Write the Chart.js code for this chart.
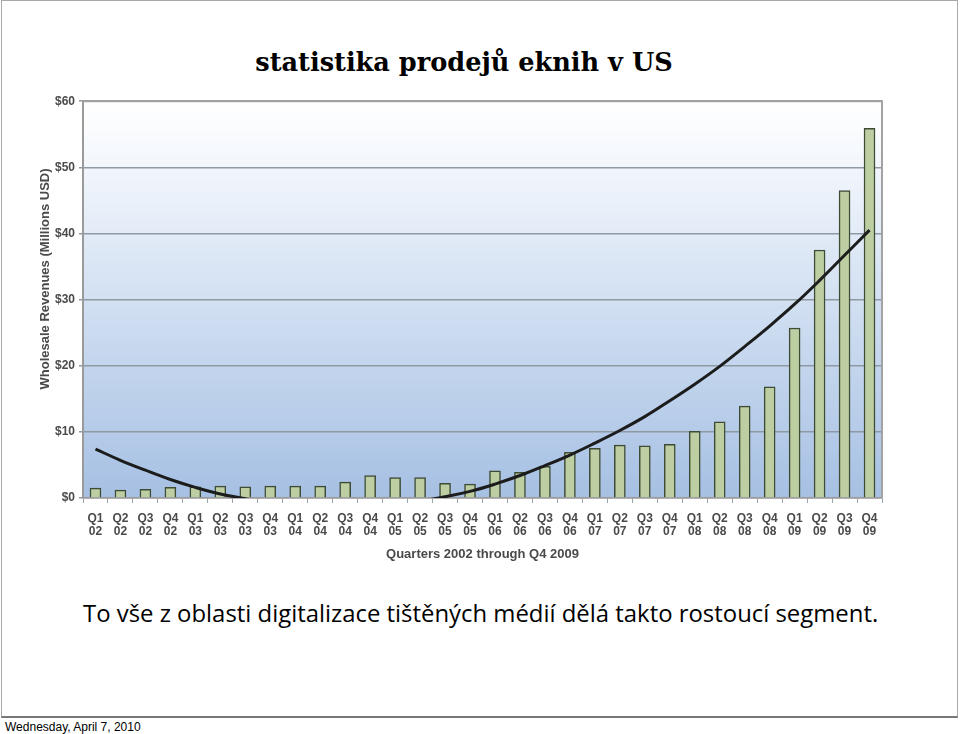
<!DOCTYPE html>
<html>
<head>
<meta charset="utf-8">
<script src="https://cdn.jsdelivr.net/npm/chart.js@4.4.1/dist/chart.umd.min.js"></script>
<style>
  html, body { margin: 0; padding: 0; background: #fff; }
  body { width: 960px; height: 734px; position: relative; overflow: hidden; }
  #frame { position: absolute; left: 1px; top: 0; width: 957px; height: 718px; border: 1.5px solid #a8a8a8; border-bottom: 2px solid #777; box-sizing: border-box; }
  #title { position: absolute; left: 0; width: 928px; top: 47px; text-align: center; font-family: "DejaVu Serif", serif; font-weight: bold; font-size: 25.6px; color: #000; }
  #caption { position: absolute; left: 83px; top: 596px; font-family: "Open Sans", sans-serif; font-size: 23.9px; color: #000; white-space: nowrap; }
  #footer { position: absolute; left: 5px; top: 720px; font-family: "Liberation Sans", Arial, sans-serif; font-size: 12px; color: #000; }
  #wrap { position: absolute; left: 30px; top: 90px; width: 870px; height: 485px; }
</style>
</head>
<body>
<div id="frame"></div>
<div id="title">statistika prodejů eknih v US</div>
<div id="wrap"><canvas id="c"></canvas></div>
<div id="caption">To vše z oblasti digitalizace tištěných médií dělá takto rostoucí segment.</div>
<div id="footer">Wednesday, April 7, 2010</div>
<script>
const quarters = ["Q1","Q2","Q3","Q4","Q1","Q2","Q3","Q4","Q1","Q2","Q3","Q4","Q1","Q2","Q3","Q4",
                  "Q1","Q2","Q3","Q4","Q1","Q2","Q3","Q4","Q1","Q2","Q3","Q4","Q1","Q2","Q3","Q4"];
const years = ["02","02","02","02","03","03","03","03","04","04","04","04","05","05","05","05",
               "06","06","06","06","07","07","07","07","08","08","08","08","09","09","09","09"];
const revenues = [1.5, 1.2, 1.3, 1.6, 1.7, 1.8, 1.7, 1.8, 1.8, 1.8, 2.4, 3.4, 3.1, 3.1, 2.2, 2.1,
                  4.1, 3.9, 4.8, 6.9, 7.5, 8.0, 7.9, 8.1, 10.1, 11.5, 13.9, 16.8, 25.7, 37.5, 46.5, 55.9];
const trend = [7.4, 5.7, 4.2, 2.8, 1.6, 0.6, -0.1, -0.8, -1.2, -1.4, -1.5, -1.4, -1.0, -0.5, 0.2, 1.0,
               2.1, 3.4, 4.9, 6.5, 8.3, 10.2, 12.3, 14.7, 17.2, 19.9, 22.9, 26.0, 29.3, 32.9, 36.7, 40.5];
const yTicks = [0, 10, 20, 30, 40, 50, 60];
const yTitle = "Wholesale Revenues (Millions USD)";
const xTitle = "Quarters 2002 through Q4 2009";

const labels = quarters.map((q, i) => [q, years[i]]);
const axisFont = 'Liberation Sans, Arial, sans-serif';

const bgPlugin = {
  id: 'bg',
  beforeDraw(chart) {
    const {ctx, chartArea: a} = chart;
    const g = ctx.createLinearGradient(0, a.top, 0, a.bottom);
    g.addColorStop(0, '#ffffff');
    g.addColorStop(0.12, '#f6f9fd');
    g.addColorStop(0.5, '#d2e0f2');
    g.addColorStop(1, '#a6c0e3');
    ctx.save();
    ctx.fillStyle = g;
    ctx.fillRect(a.left, a.top, a.right - a.left, a.bottom - a.top);
    ctx.restore();
  },
  afterDatasetsDraw(chart) {
    const {ctx, chartArea: a} = chart;
    ctx.save();
    ctx.strokeStyle = '#a3a3a3';
    ctx.lineWidth = 2;
    ctx.beginPath();
    ctx.moveTo(a.left, a.top);
    ctx.lineTo(a.right, a.top);
    ctx.lineTo(a.right, a.bottom);
    ctx.stroke();
    ctx.restore();
  },
  afterDraw(chart) {
    const {ctx} = chart;
    ctx.save();
    ctx.translate(15, 189);
    ctx.rotate(-Math.PI / 2);
    ctx.font = 'bold 13px ' + axisFont;
    ctx.fillStyle = '#4a4a4a';
    ctx.textAlign = 'center';
    ctx.textBaseline = 'middle';
    ctx.fillText(yTitle, 0, 0);
    ctx.restore();
  }
};

new Chart(document.getElementById('c'), {
  data: {
    labels: labels,
    datasets: [
      {
        type: 'line',
        data: trend,
        borderColor: '#1c1c1c',
        borderWidth: 3,
        pointRadius: 0,
        tension: 0.4,
        fill: false,
        order: 0,
        clip: 0
      },
      {
        type: 'bar',
        data: revenues,
        backgroundColor: '#bccea2',
        borderColor: '#3e4b35',
        borderWidth: 1.5,
        barThickness: 11,
        order: 1
      }
    ]
  },
  options: {
    responsive: true,
    maintainAspectRatio: false,
    animation: false,
    layout: { padding: { top: 11, right: 18, left: 0, bottom: 0 } },
    plugins: { legend: { display: false }, tooltip: { enabled: false } },
    scales: {
      x: {
        offset: true,
        grid: { display: true, drawOnChartArea: false, offset: true, tickLength: 5, color: '#9aa2aa', lineWidth: 1 },
        border: { display: true, color: '#9a9a9a', width: 1.5 },
        ticks: { color: '#4a4a4a', font: { family: axisFont, weight: 'bold', size: 12, lineHeight: 1.1 }, maxRotation: 0, autoSkip: false, padding: 9 },
        title: { display: true, text: xTitle, color: '#4a4a4a', font: { family: axisFont, weight: 'bold', size: 13 }, padding: { top: 4, bottom: 13 } },
        afterFit(scale) { scale.height = 77; }
      },
      y: {
        min: 0, max: 60,
        afterBuildTicks(scale) { scale.ticks = yTicks.map(v => ({ value: v })); },
        grid: { color: '#8f99a4', lineWidth: 1.5, tickLength: 4, drawTicks: true },
        border: { display: true, color: '#9a9a9a', width: 2 },
        ticks: { color: '#4a4a4a', font: { family: axisFont, weight: 'bold', size: 12 }, padding: 4, callback: v => '$' + v },
        title: { display: false },
        afterFit(scale) { scale.width = 53; }
      }
    }
  },
  plugins: [bgPlugin]
});
</script>
</body>
</html>
